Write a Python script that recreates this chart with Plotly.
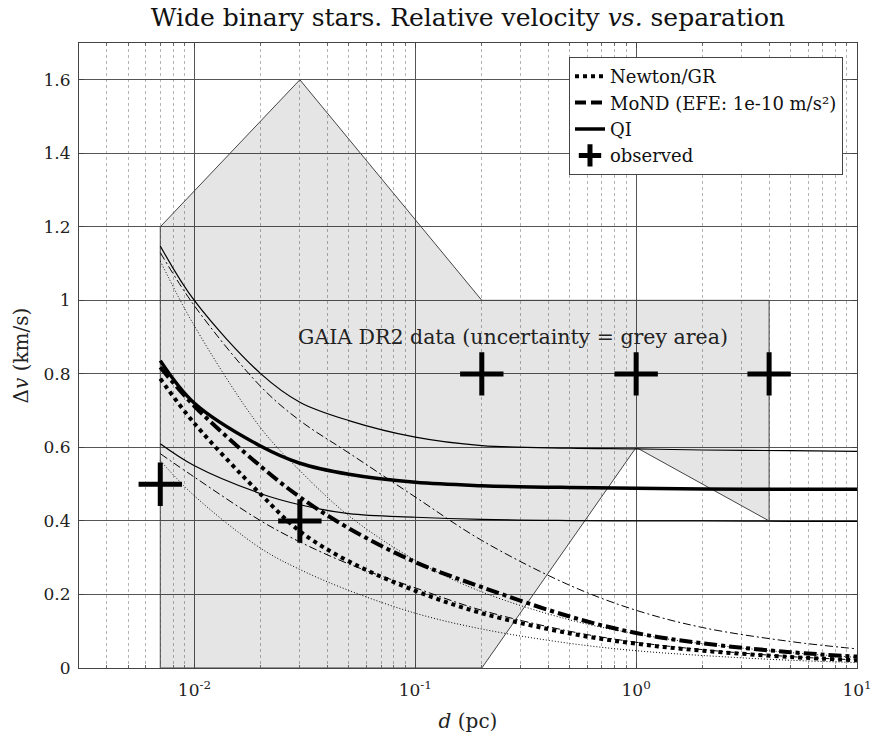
import plotly.graph_objects as go

# separation (pc)
d = [0.007, 0.01, 0.02, 0.03, 0.05, 0.1, 0.2, 0.5, 1, 2, 5, 10]

newton_mid = [0.787, 0.665, 0.472, 0.372, 0.290, 0.210, 0.149, 0.094, 0.066, 0.047, 0.030, 0.021]
newton_hi = [1.107, 0.93, 0.652, 0.537, 0.414, 0.293, 0.207, 0.131, 0.093, 0.066, 0.042, 0.029]
newton_lo = [0.564, 0.468, 0.325, 0.268, 0.211, 0.149, 0.106, 0.067, 0.047, 0.034, 0.021, 0.015]

mond_mid = [0.818, 0.712, 0.548, 0.465, 0.380, 0.288, 0.22, 0.14, 0.095, 0.067, 0.043, 0.031]
mond_hi = [1.13, 0.985, 0.765, 0.673, 0.585, 0.465, 0.347, 0.225, 0.157, 0.11, 0.072, 0.052]
mond_lo = [0.583, 0.519, 0.40, 0.343, 0.283, 0.218, 0.157, 0.10, 0.07, 0.05, 0.031, 0.022]

qi_mid = [0.836, 0.72, 0.603, 0.557, 0.527, 0.505, 0.496, 0.491, 0.489, 0.487, 0.486, 0.486]
qi_hi = [1.148, 0.999, 0.80, 0.723, 0.673, 0.628, 0.605, 0.598, 0.596, 0.593, 0.591, 0.589]
qi_lo = [0.61, 0.55, 0.474, 0.444, 0.42, 0.41, 0.404, 0.401, 0.40, 0.40, 0.399, 0.399]

obs_d = [0.007, 0.03, 0.2, 1, 4]
obs_v = [0.5, 0.4, 0.8, 0.8, 0.8]

grey_d = [0.007, 0.007, 0.03, 0.2, 4, 4, 1, 0.2, 0.007]
grey_v = [0, 1.2, 1.6, 1.0, 1.0, 0.4, 0.6, 0, 0]

x_tickvals = [0.01, 0.1, 1, 10]
x_ticktext = ["10<sup>-2</sup>", "10<sup>-1</sup>", "10<sup>0</sup>", "10<sup>1</sup>"]

FONT = "DejaVu Serif"
TXT = "#222"
MOND = "MoND (EFE: 1e-10 m/s²)"

fig = go.Figure()

fig.add_trace(go.Scatter(x=grey_d, y=grey_v, mode="lines", fill="toself",
                         fillcolor="rgba(0,0,0,0.10)",
                         line=dict(color="#444444", width=1),
                         showlegend=False, hoverinfo="skip"))

def add(y, name, dash, width, show=False):
    fig.add_trace(go.Scatter(x=d, y=y, mode="lines", name=name,
                             line=dict(color="black", dash=dash, width=width, shape="spline", smoothing=1),
                             showlegend=show, legendgroup=name))

add(newton_hi, "Newton/GR", "1px,2px", 1)
add(newton_lo, "Newton/GR", "1px,2px", 1)
add(mond_hi, MOND, "8px,3px,2px,3px", 1)
add(mond_lo, MOND, "8px,3px,2px,3px", 1)
add(qi_hi, "QI", "solid", 1.2)
add(qi_lo, "QI", "solid", 1.2)
add(newton_mid, "Newton/GR", "4px,4px", 4, True)
add(mond_mid, MOND, "13px,4px,4px,4px", 4)

# legend sample for MoND shown as dashes, as in the reference legend
fig.add_trace(go.Scatter(x=[None], y=[None], mode="lines", name=MOND, legendgroup=MOND,
                         line=dict(color="black", dash="11px,5px", width=4), showlegend=True))

add(qi_mid, "QI", "solid", 3.5, True)

fig.add_trace(go.Scatter(x=obs_d, y=obs_v, mode="markers", name="observed",
                         marker=dict(symbol="cross-thin", size=31, color="black",
                                     line=dict(color="black", width=5))))

fig.add_annotation(x=-0.557, y=0.9, xref="x", yref="y",
                   text="GAIA DR2 data (uncertainty = grey area)", showarrow=False,
                   font=dict(family=FONT, size=20.5, color=TXT))

fig.update_layout(
    width=873, height=739,
    margin=dict(l=79, r=16, t=43, b=71, autoexpand=False),
    paper_bgcolor="white", plot_bgcolor="white",
    font=dict(family=FONT, size=17, color=TXT),
    title=dict(text="Wide binary stars. Relative velocity <i>vs.</i> separation",
               x=0.536, xanchor="center", y=0.976, yanchor="middle",
               font=dict(family=FONT, size=25, color="#111")),
    legend=dict(x=0.982, xanchor="right", y=0.9776, yanchor="top",
                bgcolor="white", bordercolor="#444", borderwidth=1,
                font=dict(family=FONT, size=18, color="#111"),
                tracegroupgap=0, itemwidth=30, traceorder="normal"),
)

fig.update_xaxes(type="log", range=[-2.5229, 1], tickvals=x_tickvals, ticktext=x_ticktext,
                 automargin=False,
                 showgrid=True, gridcolor="#555", gridwidth=1,
                 minor=dict(dtick="D1", showgrid=True, gridcolor="#b5b5b5", griddash="3px,3px",
                            gridwidth=0.7, ticks="inside", ticklen=3, tickcolor="#666"),
                 showline=True, linecolor="#444", linewidth=1, mirror="ticks",
                 ticks="inside", ticklen=5, tickcolor="#444",
                 ticklabelstandoff=7,
                 tickfont=dict(family=FONT, size=17, color=TXT),
                 title=dict(text="<i>d</i> (pc)", font=dict(family=FONT, size=20, color=TXT), standoff=14),
                 zeroline=False)
fig.update_yaxes(range=[0, 1.7], dtick=0.2, automargin=False,
                 showgrid=True, gridcolor="#555", gridwidth=1,
                 showline=True, linecolor="#444", linewidth=1, mirror="ticks",
                 ticks="inside", ticklen=5, tickcolor="#444",
                 ticklabelstandoff=4,
                 tickfont=dict(family=FONT, size=17, color=TXT),
                 title=dict(text="Δ<i>v</i> (km/s)", font=dict(family=FONT, size=20, color=TXT), standoff=9),
                 zeroline=False)

fig.write_html("out.html", config={"displayModeBar": False},
               post_script="document.body.style.margin='0px';")
